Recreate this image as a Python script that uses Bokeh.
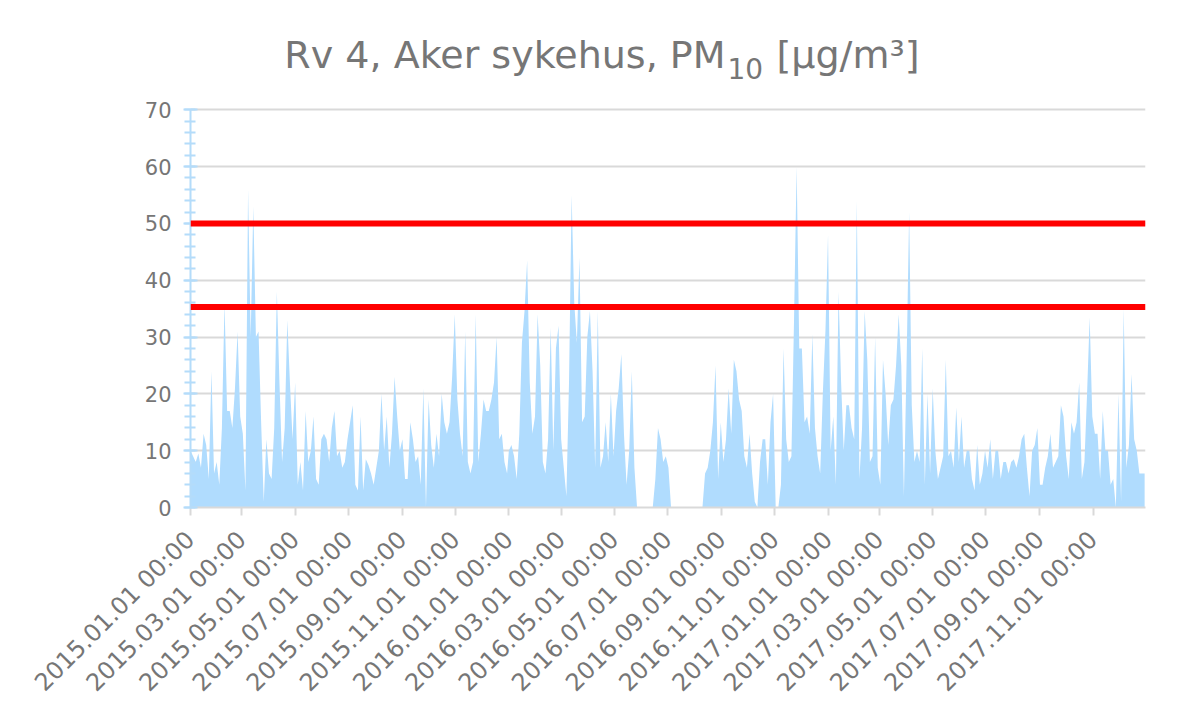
import numpy as np
from math import pi
from bokeh.plotting import figure
from bokeh.models import FixedTicker, DatetimeTickFormatter, Span, Range1d, ColumnDataSource, Label
from bokeh.embed import file_html
from bokeh.resources import INLINE

# Daily PM10, one value every 3 days from 1 January of each year
step_days = 3
pm10_2015 = [10, 9, 8, 9.5, 7, 13, 11, 5, 24, 6, 8, 4, 14, 36, 17, 17, 14, 21, 31, 16,
             13, 3, 56, 30, 53, 30, 31, 15, 1, 12, 6, 5, 14, 38, 22, 8, 14, 33, 22, 12,
             22, 4, 8, 3, 17, 8, 10, 16, 5, 4, 12, 13, 12, 8, 14, 17, 9, 10, 7, 8,
             12, 15, 18, 4, 3, 16, 3, 8.5, 7.5, 6, 4, 7, 10, 20, 10, 16, 7, 13, 23, 16,
             10, 12, 5, 5, 15, 12, 8, 9, 4, 21, 0, 19, 11, 7, 13, 9, 20, 15, 13, 15,
             23, 34, 19, 13, 9, 31, 8, 6, 8, 34, 8, 13, 19, 17, 17, 19, 22, 30, 12, 13,
             8, 6]
pm10_2016 = [10, 11, 9, 5, 13, 29, 34.6, 43.5, 22, 13, 16, 34, 25, 8, 6, 12, 31.7, 10, 28, 32,
             12, 7, 2, 22, 55, 36, 29, 44, 15, 16, 30, 34.6, 24, 7, 34.6, 7, 9, 15, 8, 20,
             9, 17, 21, 27, 13, 4, 10, 24, 7, 0, 0, 0, 0, 0, 0, 0, 5, 14, 12, 8,
             9, 7, 0, 0, 0, 0, 0, 0, 0, 0, 0, 0, 0, 0, 0, 6, 7, 10, 15, 25,
             5, 15, 8, 12, 21, 13, 26, 24, 19, 17, 9, 7, 13, 6, 1, 0, 8, 12, 12, 4,
             15, 20, 0, 0, 4, 28, 12, 8, 9, 33, 60, 28, 28, 15, 16, 13, 30.5, 14, 9, 6,
             20, 31]
pm10_2017 = [48, 10, 16, 4, 38, 22, 10, 18, 18, 14, 12, 54, 5, 14, 34.6, 26, 8, 9, 30, 7,
             4, 26, 20, 11, 18, 19, 25, 34, 25, 2, 25, 52, 18, 8, 10, 8, 28, 4, 20, 6,
             21, 10, 5, 7, 9, 26, 9, 10, 7, 17.6, 8, 16, 7, 10, 10, 5, 3, 11, 4, 6,
             10, 7, 12, 5, 10, 10, 5, 8, 8, 6, 8, 8.5, 7, 9, 12, 13, 7, 2, 10, 11,
             14, 4, 4, 7, 9, 13, 7, 8, 9, 18, 16, 9, 5, 15, 13, 15, 22, 5, 8, 20,
             33.5, 16, 13, 13, 5, 17, 10, 10, 4, 5, 0, 20, 1, 35, 7, 11, 23.5, 12, 10, 6,
             6, 6]
years = [2015, 2016, 2017]
limit_values = [50, 35.3]
tick_dates = ["2015-01-01", "2015-03-01", "2015-05-01", "2015-07-01", "2015-09-01", "2015-11-01",
              "2016-01-01", "2016-03-01", "2016-05-01", "2016-07-01", "2016-09-01", "2016-11-01",
              "2017-01-01", "2017-03-01", "2017-05-01", "2017-07-01", "2017-09-01", "2017-11-01"]
x_start, x_end = "2015-01-01", "2017-12-31"
y_axis_max = 70
y_ticks = list(range(0, 71, 10))
y_minor = list(range(0, 71, 2))
title_main, title_sub, title_unit = "Rv 4, Aker sykehus, PM", "10", "[\u00b5g/m\u00b3]"


def ms(d):
    return float((np.datetime64(d, "ms") - np.datetime64("1970-01-01", "ms")) / np.timedelta64(1, "ms"))


xs, ys = [], []
for yr, vals in zip(years, [pm10_2015, pm10_2016, pm10_2017]):
    base = np.datetime64(f"{yr}-01-01", "D")
    for i, v in enumerate(vals):
        xs.append(ms(base + np.timedelta64(step_days * i, "D")))
        ys.append(v)
src = ColumnDataSource(dict(x=xs, y=ys))

GRAY_TXT = "#767676"
GRID = "#d9d9d9"
BLUE = "#b0dcfe"
AXIS_BLUE = "#b4dcfa"
FONT = "DejaVu Sans"

# layout: frame spans from the top of the canvas so the title can live inside it;
# the value axis itself is bounded to 0..70
W, H = 1184, 711
frame_left, frame_right, frame_bottom, px_70 = 190, 1145, 507, 109.3
y_view_top = y_axis_max * frame_bottom / (frame_bottom - px_70)

p = figure(width=W, height=H, output_backend="svg", toolbar_location=None,
           x_axis_type="datetime",
           x_range=Range1d(ms(x_start), ms(x_end)), y_range=Range1d(0, y_view_top),
           min_border_left=frame_left, min_border_right=W - frame_right,
           min_border_top=0, min_border_bottom=H - frame_bottom)
p.outline_line_color = None
p.background_fill_color = "white"

p.varea(x="x", y1=0, y2="y", source=src, fill_color=BLUE, fill_alpha=1.0)

for v in limit_values:
    p.add_layout(Span(location=v, dimension="width", line_color="#ff0000", line_width=6))

# title in three pieces (subscript 10); screen units are relative to the frame's lower-left corner
title_y = 453
p.add_layout(Label(x=535, y=title_y, x_units="screen", y_units="screen", text=title_main,
                   text_align="right", text_baseline="alphabetic", text_font=FONT,
                   text_font_size="38px", text_color=GRAY_TXT))
p.add_layout(Label(x=537, y=title_y - 14, x_units="screen", y_units="screen", text=title_sub,
                   text_align="left", text_baseline="alphabetic", text_font=FONT,
                   text_font_size="28px", text_color=GRAY_TXT))
p.add_layout(Label(x=586, y=title_y, x_units="screen", y_units="screen", text=title_unit,
                   text_align="left", text_baseline="alphabetic", text_font=FONT,
                   text_font_size="38px", text_color=GRAY_TXT))

# y axis
p.yaxis.bounds = (0, y_axis_max)
p.yaxis.ticker = FixedTicker(ticks=y_ticks, minor_ticks=y_minor)
p.yaxis.axis_line_color = AXIS_BLUE
p.yaxis.axis_line_width = 2
p.yaxis.major_tick_line_color = AXIS_BLUE
p.yaxis.major_tick_line_width = 2
p.yaxis.major_tick_in = 7
p.yaxis.major_tick_out = 7
p.yaxis.minor_tick_line_color = AXIS_BLUE
p.yaxis.minor_tick_line_width = 2
p.yaxis.minor_tick_in = 5
p.yaxis.minor_tick_out = 6
p.yaxis.major_label_text_font = FONT
p.yaxis.major_label_text_font_size = "21px"
p.yaxis.major_label_text_color = GRAY_TXT
p.yaxis.major_label_standoff = 12

# x axis
fmt = "%Y.%m.%d %H:%M"
p.xaxis.ticker = FixedTicker(ticks=[ms(d) for d in tick_dates], minor_ticks=[])
p.xaxis.formatter = DatetimeTickFormatter(milliseconds=fmt, seconds=fmt, minsec=fmt, minutes=fmt,
                                          hourmin=fmt, hours=fmt, days=fmt, months=fmt, years=fmt)
p.xaxis.axis_line_color = GRID
p.xaxis.axis_line_width = 2
p.xaxis.major_tick_line_color = GRID
p.xaxis.major_tick_line_width = 2
p.xaxis.major_tick_in = 0
p.xaxis.major_tick_out = 8
p.xaxis.minor_tick_line_color = None
p.xaxis.major_label_orientation = pi / 4
p.xaxis.major_label_text_font = FONT
p.xaxis.major_label_text_font_size = "24px"
p.xaxis.major_label_text_color = GRAY_TXT
p.xaxis.major_label_standoff = 20

p.xgrid.visible = False
p.ygrid.grid_line_color = GRID
p.ygrid.grid_line_width = 2

open("out.html", "w").write(file_html(p, INLINE))
